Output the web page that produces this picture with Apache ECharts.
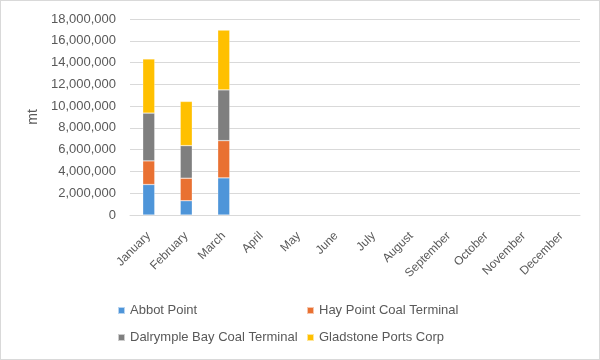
<!DOCTYPE html>
<html><head><meta charset="utf-8">
<script src="https://cdn.jsdelivr.net/npm/echarts@6/dist/echarts.min.js"></script>
<style>html,body{margin:0;padding:0;background:#fff}#c{width:600px;height:360px;box-sizing:border-box;border:1px solid #d9d9d9}</style>
</head><body><div id="c"></div>
<script>
var months = ['January','February','March','April','May','June','July','August','September','October','November','December'];
var abbotPoint = [2800000, 1310000, 3410000, null, null, null, null, null, null, null, null, null];
var hayPoint = [2170000, 2070000, 3420000, null, null, null, null, null, null, null, null, null];
var dalrympleBay = [4390000, 2990000, 4660000, null, null, null, null, null, null, null, null, null];
var gladstone = [4970000, 4060000, 5490000, null, null, null, null, null, null, null, null, null];
var seriesNames = ['Abbot Point','Hay Point Coal Terminal','Dalrymple Bay Coal Terminal','Gladstone Ports Corp'];
var colors = ['#4E95D9','#E97132','#7F7F7F','#FFC000'];
var font = 'Liberation Sans, Arial, sans-serif';
var txt = '#595959';
var chart = echarts.init(document.getElementById('c'));
function mk(name, data, i){
  return {name:name,type:'bar',stack:'a',data:data,barWidth:12,
    itemStyle:{color:colors[i],borderColor:'rgba(255,255,255,0.6)',borderWidth:0.5}};
}
function lg(name, left, top){
  return {data:[name],left:left,top:top,itemWidth:7,itemHeight:7,icon:'rect',itemGap:0,padding:0,
    textStyle:{color:txt,fontSize:13,fontFamily:font}};
}
chart.setOption({
  animation:false,
  color:colors,
  grid:{left:129,right:19,top:18,bottom:144,containLabel:false},
  legend:[lg(seriesNames[0],116,303),lg(seriesNames[1],305,303),lg(seriesNames[2],116,330),lg(seriesNames[3],305,330)],
  xAxis:{type:'category',data:months,axisTick:{show:false},
    axisLine:{lineStyle:{color:'#d9d9d9'}},
    axisLabel:{rotate:45,color:txt,fontSize:12,fontFamily:font,margin:19,interval:0}},
  yAxis:{type:'value',min:0,max:18000000,interval:2000000,
    name:'mt',nameLocation:'middle',nameGap:90,nameRotate:90,
    nameTextStyle:{color:txt,fontSize:14,fontFamily:font},
    axisLine:{show:false},axisTick:{show:false},
    splitLine:{lineStyle:{color:'#d9d9d9'}},
    axisLabel:{color:txt,fontSize:13,fontFamily:font,margin:14,
      formatter:function(v){return v.toLocaleString('en-US');}}},
  series:[mk(seriesNames[0],abbotPoint,0),mk(seriesNames[1],hayPoint,1),mk(seriesNames[2],dalrympleBay,2),mk(seriesNames[3],gladstone,3)]
});
</script></body></html>
